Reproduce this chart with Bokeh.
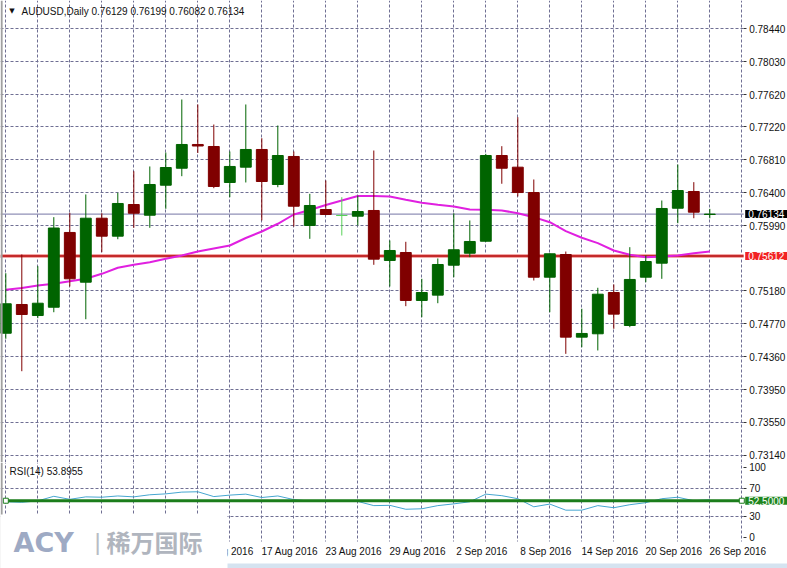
import numpy as np
from bokeh.plotting import figure
from bokeh.models import (ColumnDataSource, FixedTicker, Span, Label, BoxAnnotation,
                          Range1d, PrintfTickFormatter, Grid)
from bokeh.layouts import column
from bokeh.embed import file_html
from bokeh.resources import INLINE

# ---------------- data ----------------
symbol = "AUDUSD"
timeframe = "Daily"

dates = ["26 Jul 2016", "27 Jul 2016", "28 Jul 2016", "29 Jul 2016", "1 Aug 2016",
         "2 Aug 2016", "3 Aug 2016", "4 Aug 2016", "5 Aug 2016", "8 Aug 2016",
         "9 Aug 2016", "10 Aug 2016", "11 Aug 2016", "12 Aug 2016", "15 Aug 2016",
         "16 Aug 2016", "17 Aug 2016", "18 Aug 2016", "19 Aug 2016", "22 Aug 2016",
         "23 Aug 2016", "24 Aug 2016", "25 Aug 2016", "26 Aug 2016", "29 Aug 2016",
         "30 Aug 2016", "31 Aug 2016", "1 Sep 2016", "2 Sep 2016", "5 Sep 2016",
         "6 Sep 2016", "7 Sep 2016", "8 Sep 2016", "9 Sep 2016", "12 Sep 2016",
         "13 Sep 2016", "14 Sep 2016", "15 Sep 2016", "16 Sep 2016", "19 Sep 2016",
         "20 Sep 2016", "21 Sep 2016", "22 Sep 2016", "23 Sep 2016", "26 Sep 2016"]

opens = [0.74654, 0.75011, 0.74874, 0.74977, 0.75906, 0.75288, 0.76083, 0.75860, 0.76253,
         0.76120, 0.76493, 0.76704, 0.76999, 0.76974, 0.76527, 0.76717, 0.76937, 0.76502,
         0.76850, 0.75993, 0.76191, 0.76117, 0.76108, 0.76179, 0.75558, 0.75657, 0.75061,
         0.75127, 0.75499, 0.75648, 0.75797, 0.76862, 0.76717, 0.76402, 0.75350, 0.75632,
         0.74605, 0.74647, 0.75160, 0.74750, 0.75350, 0.75524, 0.76207, 0.76415, 0.76129]
highs = [0.75400, 0.75632, 0.75487, 0.76096, 0.76150, 0.76378, 0.76145, 0.76399, 0.76667,
         0.76726, 0.76899, 0.77558, 0.77496, 0.77247, 0.76912, 0.77496, 0.77077, 0.77235,
         0.76912, 0.76386, 0.76552, 0.76344, 0.76365, 0.76924, 0.75806, 0.75790, 0.75330,
         0.75583, 0.76145, 0.76055, 0.76883, 0.76978, 0.77338, 0.76564, 0.75645, 0.75669,
         0.74958, 0.75219, 0.75260, 0.75723, 0.75620, 0.76303, 0.76750, 0.76531, 0.76199]
lows = [0.74585, 0.74182, 0.74841, 0.74915, 0.75235, 0.74828, 0.75661, 0.75822, 0.75964,
        0.75964, 0.76200, 0.76605, 0.76893, 0.76456, 0.76344, 0.76527, 0.76055, 0.76468,
        0.75980, 0.75827, 0.76120, 0.75868, 0.75993, 0.75504, 0.75235, 0.74990, 0.74853,
        0.75027, 0.75350, 0.75599, 0.75790, 0.76511, 0.76353, 0.75309, 0.74915, 0.74398,
        0.74480, 0.74440, 0.74709, 0.74729, 0.75288, 0.75330, 0.76021, 0.76083, 0.76082]
closes = [0.75020, 0.74887, 0.75027, 0.75961, 0.75330, 0.76083, 0.75860, 0.76266, 0.76145,
          0.76502, 0.76713, 0.76999, 0.76980, 0.76477, 0.76726, 0.76937, 0.76539, 0.76862,
          0.76232, 0.76241, 0.76129, 0.76117, 0.76166, 0.75574, 0.75682, 0.75061, 0.75160,
          0.75508, 0.75691, 0.75794, 0.76862, 0.76704, 0.76402, 0.75350, 0.75641, 0.74605,
          0.74651, 0.75139, 0.74891, 0.75322, 0.75545, 0.76204, 0.76427, 0.76158, 0.76134]

ma_values = [0.75194, 0.75216, 0.75247, 0.75268, 0.75300, 0.75330, 0.75392, 0.75467, 0.75504,
             0.75537, 0.75579, 0.75620, 0.75669, 0.75707, 0.75744, 0.75837, 0.75918, 0.76014,
             0.76129, 0.76185, 0.76247, 0.76303, 0.76359, 0.76359, 0.76353, 0.76312, 0.76275,
             0.76250, 0.76229, 0.76191, 0.76187, 0.76179, 0.76145, 0.76096, 0.76033, 0.75922,
             0.75840, 0.75773, 0.75682, 0.75628, 0.75599, 0.75607, 0.75620, 0.75648, 0.75669]

rsi_values = [51.0, 50.2, 52.3, 58.8, 54.5, 58.0, 57.5, 59.3, 58.0, 61.0, 62.3, 64.8, 65.3,
              58.4, 60.5, 61.9, 57.1, 59.3, 54.1, 52.0, 52.3, 52.0, 51.5, 45.5, 45.9, 40.3,
              41.0, 45.5, 48.0, 51.0, 61.9, 59.7, 55.4, 43.8, 47.7, 39.0, 39.0, 45.5, 42.5,
              46.8, 49.7, 55.4, 57.5, 52.5, 53.8955]

price_ticks = [0.78440, 0.78030, 0.77620, 0.77220, 0.76810, 0.76400, 0.75990,
               0.75180, 0.74770, 0.74360, 0.73950, 0.73550, 0.73140]
hidden_price_tick = 0.75590
rsi_ticks = [0, 30, 70, 100]
rsi_grid_levels = [30, 70]
rsi_level = 52.5
support_level = 0.75612
date_tick_idx = list(range(0, 45, 4))

# ---------------- layout / style ----------------
W, H1, H2 = 787, 462, 106
FONT = "Liberation Sans"
GRID_COLOR = "#6f6f93"
BULL, BEAR, DOJI = "#006400", "#800000", "#58d258"

n = len(opens)
xs = np.arange(n)


def xi(px):   # picture x pixel -> bar index (decorations only)
    return (px - 5.3) / 16.0


def py(px):   # picture y pixel -> price (decorations only)
    return 0.78440 - (px - 28) * 0.0041 / 33.0


def ry(px):   # picture y pixel -> RSI units (decorations only)
    return 107.1 - (px - 462) / 0.7


x_range = Range1d(xi(0), xi(W))
AXIS_X = xi(742.7)          # where the price scale starts
PANE_BOTTOM = ry(541)       # bottom of the indicator pane


def base_fig(height, y_range):
    f = figure(width=W, height=height, x_range=x_range, y_range=y_range,
               x_axis_location="below", y_axis_location="right",
               toolbar_location=None, output_backend="svg",
               min_border_left=0, min_border_right=0, min_border_top=0,
               min_border_bottom=0, outline_line_color=None,
               background_fill_color="white", border_fill_color="white")
    f.grid.visible = False
    f.add_layout(Grid(dimension=0, ticker=FixedTicker(ticks=list(range(0, 47, 2))),
                      grid_line_color=GRID_COLOR, grid_line_dash="3 2", grid_line_width=1))
    ax = f.yaxis[0]
    ax.fixed_location = AXIS_X
    ax.axis_line_color = None
    ax.major_tick_out = 3
    ax.major_tick_in = 0
    ax.major_tick_line_color = "#333333"
    ax.minor_tick_line_color = None
    ax.major_label_standoff = 3
    ax.major_label_text_font = FONT
    ax.major_label_text_font_size = "10px"
    ax.major_label_text_color = "#111111"
    return f


def style_xaxis(xa):
    xa.axis_line_color = None
    xa.major_tick_out = 0
    xa.major_tick_in = 0
    xa.minor_tick_line_color = None
    xa.major_label_standoff = 4
    xa.major_label_text_font = FONT
    xa.major_label_text_font_size = "10px"
    xa.major_label_text_color = "#111111"


def label_box(fig, y, text, bg):
    fig.add_layout(Label(x=AXIS_X, y=y, x_offset=2, text=text, text_font=FONT,
                         text_font_size="10px", text_color="white",
                         background_fill_color=bg, text_align="left",
                         text_baseline="middle", padding=(3, 0)))


# ---------------- price pane ----------------
p1 = base_fig(H1, Range1d(py(H1), py(0)))
p1.xaxis[0].visible = False
p1.xaxis[0].fixed_location = py(H1)
p1.add_layout(Grid(dimension=1, ticker=FixedTicker(ticks=price_ticks + [hidden_price_tick]),
                   grid_line_color=GRID_COLOR, grid_line_dash="3 2", grid_line_width=1))
p1.yaxis[0].ticker = FixedTicker(ticks=price_ticks)
p1.yaxis[0].formatter = PrintfTickFormatter(format="%.5f")

p1.add_layout(Span(location=support_level, dimension="width", line_color="#f2a8a8",
                   line_width=4, level="underlay"))
p1.add_layout(Span(location=support_level, dimension="width", line_color="#c42a2a",
                   line_width=2, level="underlay"))
p1.add_layout(Span(location=closes[-1], dimension="width", line_color="#7474a4",
                   line_width=1, level="underlay"))
# keep the price-scale strip clean
p1.add_layout(BoxAnnotation(left=AXIS_X + 0.03, right=60, fill_color="white", fill_alpha=1.0,
                            line_color=None, level="underlay"))
p1.add_layout(Span(location=x_range.start + 0.07, dimension="height",
                   line_color="#a0a0a0", line_width=2))

p1.line(xs, ma_values, line_color="#e020e0", line_width=2)

o = np.array(opens); c = np.array(closes)
colors = [BULL if cc > oo else (BEAR if cc < oo else DOJI) for oo, cc in zip(opens, closes)]
src = ColumnDataSource(dict(x=xs, high=highs, low=lows, top=np.maximum(o, c),
                            bottom=np.minimum(o, c), color=colors))
p1.segment(x0="x", y0="low", x1="x", y1="high", line_color="color", line_width=1, source=src)
p1.vbar(x="x", top="top", bottom="bottom", width=0.68, fill_color="color",
        line_color="color", line_width=1, source=src)

p1.add_layout(Label(x=xi(11.5), y=py(10.5), text="\u25BC", text_font="DejaVu Sans",
                    text_font_size="7px", text_color="#111111", text_align="center",
                    text_baseline="middle"))
p1.add_layout(Label(x=xi(21), y=py(10.5),
                    text=f"{symbol},{timeframe}  {opens[-1]:.5f} {highs[-1]:.5f} "
                         f"{lows[-1]:.5f} {closes[-1]:.5f}",
                    text_font=FONT, text_font_size="10px", text_color="#111111",
                    text_align="left", text_baseline="middle"))
label_box(p1, closes[-1], f"{closes[-1]:.5f}", "black")
label_box(p1, support_level, f"{support_level:.5f}", "#f22222")

# ---------------- RSI pane ----------------
p2 = base_fig(H2, Range1d(ry(H1 + H2), ry(H1)))
p2.add_layout(Grid(dimension=1, ticker=FixedTicker(ticks=rsi_grid_levels),
                   grid_line_color=GRID_COLOR, grid_line_dash="3 2", grid_line_width=1))
p2.yaxis[0].ticker = FixedTicker(ticks=rsi_ticks)
p2.yaxis[0].formatter = PrintfTickFormatter(format="%d")

date_ticks = [i + 1.75 for i in date_tick_idx]
xa = p2.xaxis[0]
xa.fixed_location = PANE_BOTTOM
xa.ticker = FixedTicker(ticks=date_ticks)
xa.major_label_overrides = {t: dates[i] for t, i in zip(date_ticks, date_tick_idx)}
style_xaxis(xa)

# clean strips: right of the scale and below the indicator pane
p2.add_layout(BoxAnnotation(left=AXIS_X + 0.03, right=60, fill_color="white", fill_alpha=1.0,
                            line_color=None, level="underlay"))
p2.add_layout(BoxAnnotation(left=-5, right=60, top=PANE_BOTTOM, bottom=-200,
                            fill_color="white", fill_alpha=1.0, line_color=None,
                            level="underlay"))
p2.add_layout(Span(location=x_range.start + 0.07, dimension="height",
                   line_color="#a0a0a0", line_width=2))

p2.line(xs, rsi_values, line_color="#46a6d0", line_width=1)
p2.line([xs[0], xs[-1] + 2], [rsi_level, rsi_level], line_color="#1b7d1b", line_width=3)
p2.scatter([xs[0], xs[-1] + 2], [rsi_level, rsi_level], marker="square", size=5,
           fill_color="white", line_color="#1b7d1b", line_width=1)
label_box(p2, rsi_level, f"{rsi_level:.4f}", "#1f861f")
p2.add_layout(Label(x=xi(9), y=ry(471), text=f"RSI(14) {rsi_values[-1]:.4f}",
                    text_font=FONT, text_font_size="10px", text_color="#111111",
                    text_align="left", text_baseline="middle"))

# watermark area and bottom strip
p2.add_layout(BoxAnnotation(left=-2, right=xi(227), top=ry(514), bottom=-200,
                            fill_color="white", fill_alpha=1.0, line_color=None))
p2.add_layout(BoxAnnotation(left=xi(227), right=60, top=ry(563), bottom=-200,
                            fill_color="#d5e3f0", fill_alpha=1.0, line_color=None))
p2.add_layout(Label(x=xi(13), y=ry(541.5), text="ACY", text_font="DejaVu Sans",
                    text_font_size="27px", text_font_style="bold", text_color="#9eaac4",
                    text_align="left", text_baseline="middle"))
p2.add_layout(Label(x=xi(97), y=ry(541), text="|", text_font=FONT, text_font_size="24px",
                    text_color="#b8bcc4", text_align="center", text_baseline="middle"))
p2.add_layout(Label(x=xi(106), y=ry(541), text="稀万国际", text_font="Noto Sans CJK SC",
                    text_font_size="24px", text_font_style="bold", text_color="#b0b5be",
                    text_align="left", text_baseline="middle"))

layout = column(p1, p2)
open("out.html", "w").write(file_html(layout, INLINE))
